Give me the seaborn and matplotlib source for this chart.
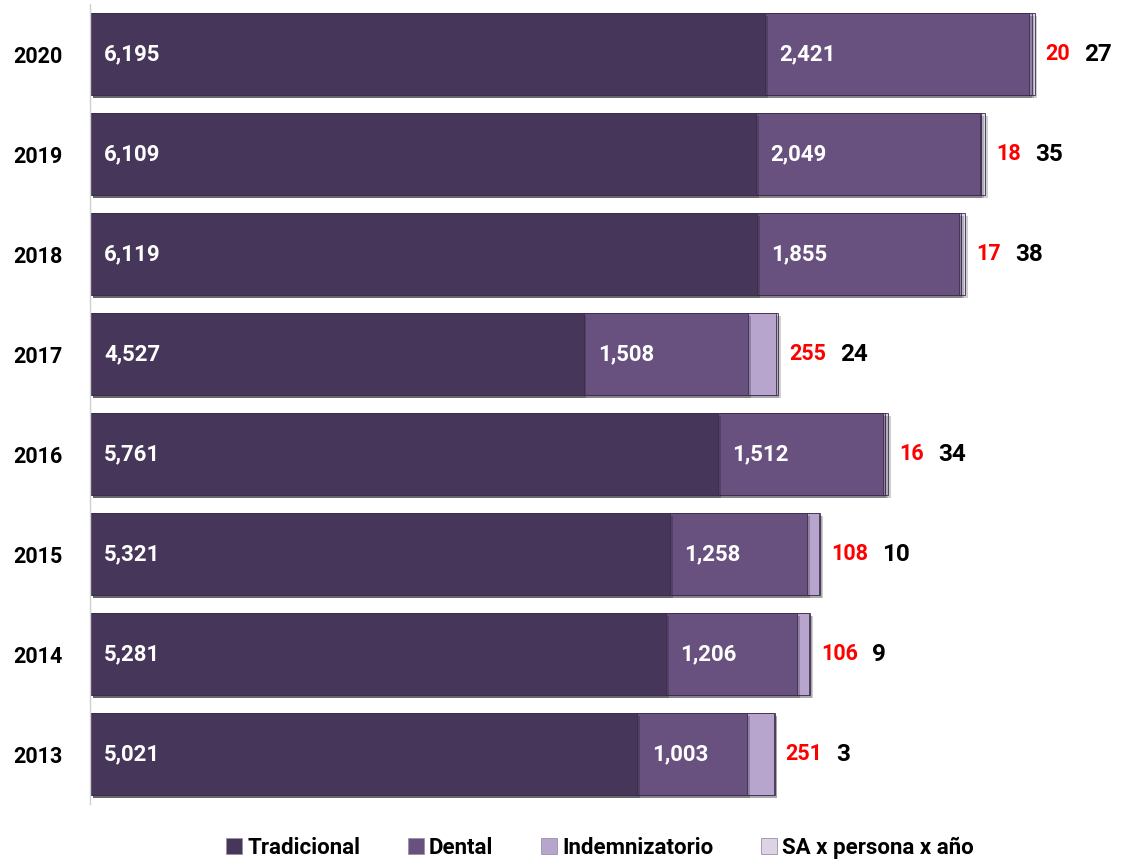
import matplotlib
matplotlib.use("Agg")
import matplotlib.pyplot as plt
import matplotlib.patheffects as pe
from matplotlib.lines import Line2D
import seaborn as sns
import pandas as pd

# Data (thousands) per year
years = ["2020", "2019", "2018", "2017", "2016", "2015", "2014", "2013"]
tradicional = [6195, 6109, 6119, 4527, 5761, 5321, 5281, 5021]
dental = [2421, 2049, 1855, 1508, 1512, 1258, 1206, 1003]
indemnizatorio = [20, 18, 17, 255, 16, 108, 106, 251]
sa_persona = [27, 35, 38, 24, 34, 10, 9, 3]

series_names = ["Tradicional", "Dental", "Indemnizatorio", "SA x persona x año"]
colors = ["#46375A", "#68507F", "#B7A5CE", "#DCD4E6"]

sns.set_theme(style="white")
plt.rcParams["font.family"] = ["Roboto", "DejaVu Sans"]

df = pd.DataFrame({
    "year": years,
    "Tradicional": tradicional,
    "Dental": dental,
    "Indemnizatorio": indemnizatorio,
    "SA x persona x año": sa_persona,
})
cum = df[series_names].cumsum(axis=1)

fig = plt.figure(figsize=(11.4, 8.6), dpi=100)
ax = fig.add_axes([0.079, 0.065, 0.921, 0.930])

shadow = [pe.SimplePatchShadow(offset=(2, -2), alpha=0.25), pe.Normal()]

# Stacked bars: draw cumulative totals from the outermost layer inward
for name, col in reversed(list(zip(series_names, colors))):
    plot_df = pd.DataFrame({"year": years, "value": cum[name]})
    sns.barplot(data=plot_df, x="value", y="year", order=years, color=col,
                orient="h", width=0.82, saturation=1, ax=ax,
                edgecolor="#3a2e4a", linewidth=0.6)

for p in ax.patches:
    p.set_path_effects(shadow)

# Value labels
for i, y in enumerate(years):
    ax.text(130, i, f"{tradicional[i]:,}", color="white", fontsize=16,
            fontweight="bold", va="center", ha="left")
    ax.text(tradicional[i] + 130, i, f"{dental[i]:,}", color="white",
            fontsize=16, fontweight="bold", va="center", ha="left")
    end = cum.loc[i, "SA x persona x año"]
    red = ax.text(end + 100, i, f"{indemnizatorio[i]:,}", color="#FF0000",
                  fontsize=15.5, fontweight="bold", va="center", ha="left")
    ax.annotate(f"{sa_persona[i]:,}", xy=(1, 0.5), xycoords=red,
                xytext=(10, 0), textcoords="offset points",
                color="black", fontsize=17.5, fontweight="bold",
                va="center", ha="left")

ax.set_xlim(0, 9630)
ax.set_ylim(7.5, -0.5)
ax.set_xlabel("")
ax.set_ylabel("")
ax.set_xticks([])
ax.tick_params(axis="y", length=0, pad=20)
for lbl in ax.get_yticklabels():
    lbl.set_fontsize(15.5)
    lbl.set_fontweight("bold")
    lbl.set_color("black")

for side in ["top", "right", "bottom"]:
    ax.spines[side].set_visible(False)
ax.spines["left"].set_color("#D0D0D0")
ax.spines["left"].set_linewidth(1.0)

handles = [Line2D([0], [0], marker="s", linestyle="none", markersize=11,
                  markerfacecolor=c, markeredgecolor="#9a90a8",
                  markeredgewidth=0.6) for c in colors]
leg = fig.legend(handles, series_names, loc="lower center",
                 bbox_to_anchor=(0.525, -0.022), ncol=4, frameon=False,
                 handletextpad=0.1, columnspacing=2.0, handlelength=1.0,
                 prop={"size": 16, "weight": "bold"})
for t in leg.get_texts():
    t.set_color("black")

fig.savefig("out.png", dpi=100)
